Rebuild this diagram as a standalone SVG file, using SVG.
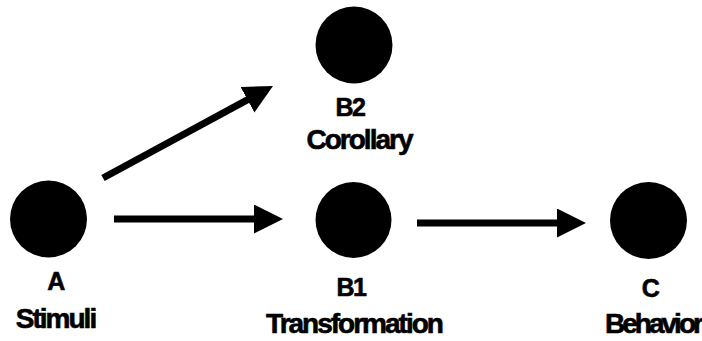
<svg xmlns="http://www.w3.org/2000/svg" width="702" height="341" viewBox="0 0 702 341">
<style>
.node{fill:#000}
.t1{font-family:"Liberation Sans",Arial,sans-serif;font-weight:bold;font-size:25px;text-anchor:middle;letter-spacing:-1.5px;fill:#000;stroke:#000;stroke-width:0.6}
.t2{font-family:"Liberation Sans",Arial,sans-serif;font-weight:bold;font-size:28px;text-anchor:middle;letter-spacing:-2px;fill:#000;stroke:#000;stroke-width:0.6}
.edge{stroke:#000;stroke-width:7;fill:none}
</style>
<defs>
<marker id="ah" markerUnits="userSpaceOnUse" markerWidth="30" markerHeight="30" refX="4" refY="14.5" orient="auto">
<path d="M0,0 L29,14.5 L0,29 z" fill="#000"/>
</marker>
</defs>
<rect width="702" height="341" fill="#fff"/>
<g id="connectors">
<line class="edge" x1="114" y1="219" x2="258" y2="219" marker-end="url(#ah)"/>
<line class="edge" x1="417" y1="223" x2="561" y2="223" marker-end="url(#ah)"/>
<line class="edge" x1="103" y1="178" x2="251" y2="97.9" marker-end="url(#ah)"/>
</g>
<g id="nodeA">
<circle class="node" cx="48.5" cy="219" r="38.5"/>
<text class="t1" x="55.5" y="290">A</text>
<text class="t2" x="55.5" y="328">Stimuli</text>
</g>
<g id="nodeB2">
<circle class="node" cx="354" cy="45" r="38.5"/>
<text class="t1" x="350" y="116">B2</text>
<text class="t2" x="359" y="149">Corollary</text>
</g>
<g id="nodeB1">
<circle class="node" cx="353.5" cy="220" r="38"/>
<text class="t1" x="351" y="296">B1</text>
<text class="t2" x="354" y="333">Transformation</text>
</g>
<g id="nodeC">
<circle class="node" cx="648.5" cy="220.5" r="38.5"/>
<text class="t1" x="650" y="297">C</text>
<text class="t2" x="653" y="333" style="letter-spacing:-3px">Behavior</text>
</g>
</svg>
